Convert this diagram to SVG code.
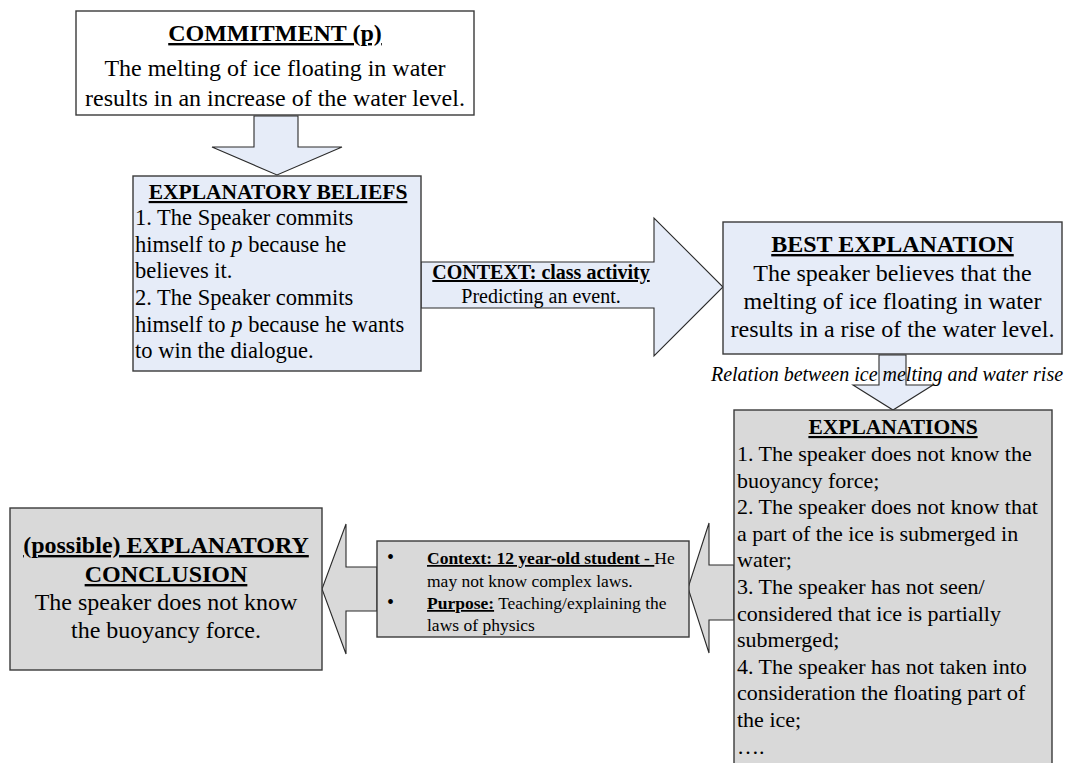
<svg xmlns="http://www.w3.org/2000/svg" width="1067" height="763" viewBox="0 0 1067 763">
<style>
text{font-family:"Liberation Serif","Times New Roman",serif;fill:#000}
.b{font-weight:bold;text-decoration:underline}
.box{stroke:#3a3a3a;stroke-width:1.4}
.blue{fill:#E6ECF8}
.gray{fill:#D9D9D9}
.white{fill:#FFFFFF}
.arr{stroke:#2a2a2a;stroke-width:1.1;stroke-linejoin:miter}
.c{text-anchor:middle}
</style>
<rect width="1067" height="763" fill="#fff"/>
<g id="connectors">
  <polygon class="arr blue" points="254,116 298,116 298,147 342,147 277,175 212,147 254,147"/>
  <polygon class="arr blue" points="421,262 654,262 654,218 723,287 654,356 654,308 421,308"/>
  <polygon class="arr blue" points="879,355 906,355 906,385 933,385 893,410 853,385 879,385"/>
  <polygon class="arr gray" points="734,565 709,565 709,523 688,588 709,653 709,620 734,620"/>
  <polygon class="arr gray" points="377,567 346,567 346,524 322,589 346,654 346,611 377,611"/>
  <g id="label-context">
    <text class="b c" x="541" y="279" font-size="20">CONTEXT: class activity</text>
    <text class="c" x="541" y="303" font-size="20">Predicting an event.</text>
  </g>
  <text id="label-relation" class="c" x="887" y="381" font-size="20" font-style="italic">Relation between ice melting and water rise</text>
</g>
<g id="commitment">
  <rect class="box white" x="76" y="11" width="398" height="104"/>
  <text class="b c" x="275" y="41" font-size="24">COMMITMENT (p)</text>
  <text class="c" x="275" y="76" font-size="24">The melting of ice floating in water</text>
  <text class="c" x="275" y="106" font-size="24">results in an increase of the water level.</text>
</g>
<g id="beliefs">
  <rect class="box blue" x="133" y="176" width="288" height="195"/>
  <text class="b c" x="278" y="199" font-size="21.5">EXPLANATORY BELIEFS</text>
  <g font-size="22.5">
    <text x="135" y="225">1. The Speaker commits</text>
    <text x="135" y="251.7">himself to <tspan font-style="italic">p</tspan> because he</text>
    <text x="135" y="278.3">believes it.</text>
    <text x="135" y="305">2. The Speaker commits</text>
    <text x="135" y="331.7">himself to <tspan font-style="italic">p</tspan> because he wants</text>
    <text x="135" y="358.3">to win the dialogue.</text>
  </g>
</g>
<g id="best">
  <rect class="box blue" x="723" y="222" width="339" height="132"/>
  <text class="b c" x="892.5" y="252" font-size="24">BEST EXPLANATION</text>
  <text class="c" x="892.5" y="280.5" font-size="24">The speaker believes that the</text>
  <text class="c" x="892.5" y="309" font-size="24">melting of ice floating in water</text>
  <text class="c" x="892.5" y="337" font-size="24">results in a rise of the water level.</text>
</g>
<g id="explanations">
  <rect class="box gray" x="734" y="410" width="318" height="370"/>
  <text class="b c" x="893" y="434" font-size="21.5">EXPLANATIONS</text>
  <g font-size="22">
    <text x="737" y="461">1. The speaker does not know the</text>
    <text x="737" y="487.6">buoyancy force;</text>
    <text x="737" y="514.2">2. The speaker does not know that</text>
    <text x="737" y="540.8">a part of the ice is submerged in</text>
    <text x="737" y="567.4">water;</text>
    <text x="737" y="594">3. The speaker has not seen/</text>
    <text x="737" y="620.6">considered that ice is partially</text>
    <text x="737" y="647.2">submerged;</text>
    <text x="737" y="673.8">4. The speaker has not taken into</text>
    <text x="737" y="700.4">consideration the floating part of</text>
    <text x="737" y="727">the ice;</text>
    <text x="737" y="753.6">….</text>
  </g>
</g>
<g id="context">
  <rect class="box gray" x="377" y="541" width="312" height="96"/>
  <g font-size="17.5">
    <text x="387" y="564" font-size="20">•</text>
    <text x="427" y="564"><tspan class="b">Context: 12 year-old student - </tspan>He</text>
    <text x="427" y="587">may not know complex laws.</text>
    <text x="387" y="609" font-size="20">•</text>
    <text x="427" y="609"><tspan class="b">Purpose:</tspan> Teaching/explaining the</text>
    <text x="427" y="631">laws of physics</text>
  </g>
</g>
<g id="conclusion">
  <rect class="box gray" x="10" y="508" width="312" height="162"/>
  <text class="b c" x="166" y="553" font-size="24">(possible) EXPLANATORY</text>
  <text class="b c" x="166" y="582" font-size="24">CONCLUSION</text>
  <text class="c" x="166" y="610" font-size="24">The speaker does not know</text>
  <text class="c" x="166" y="638" font-size="24">the buoyancy force.</text>
</g>
</svg>
